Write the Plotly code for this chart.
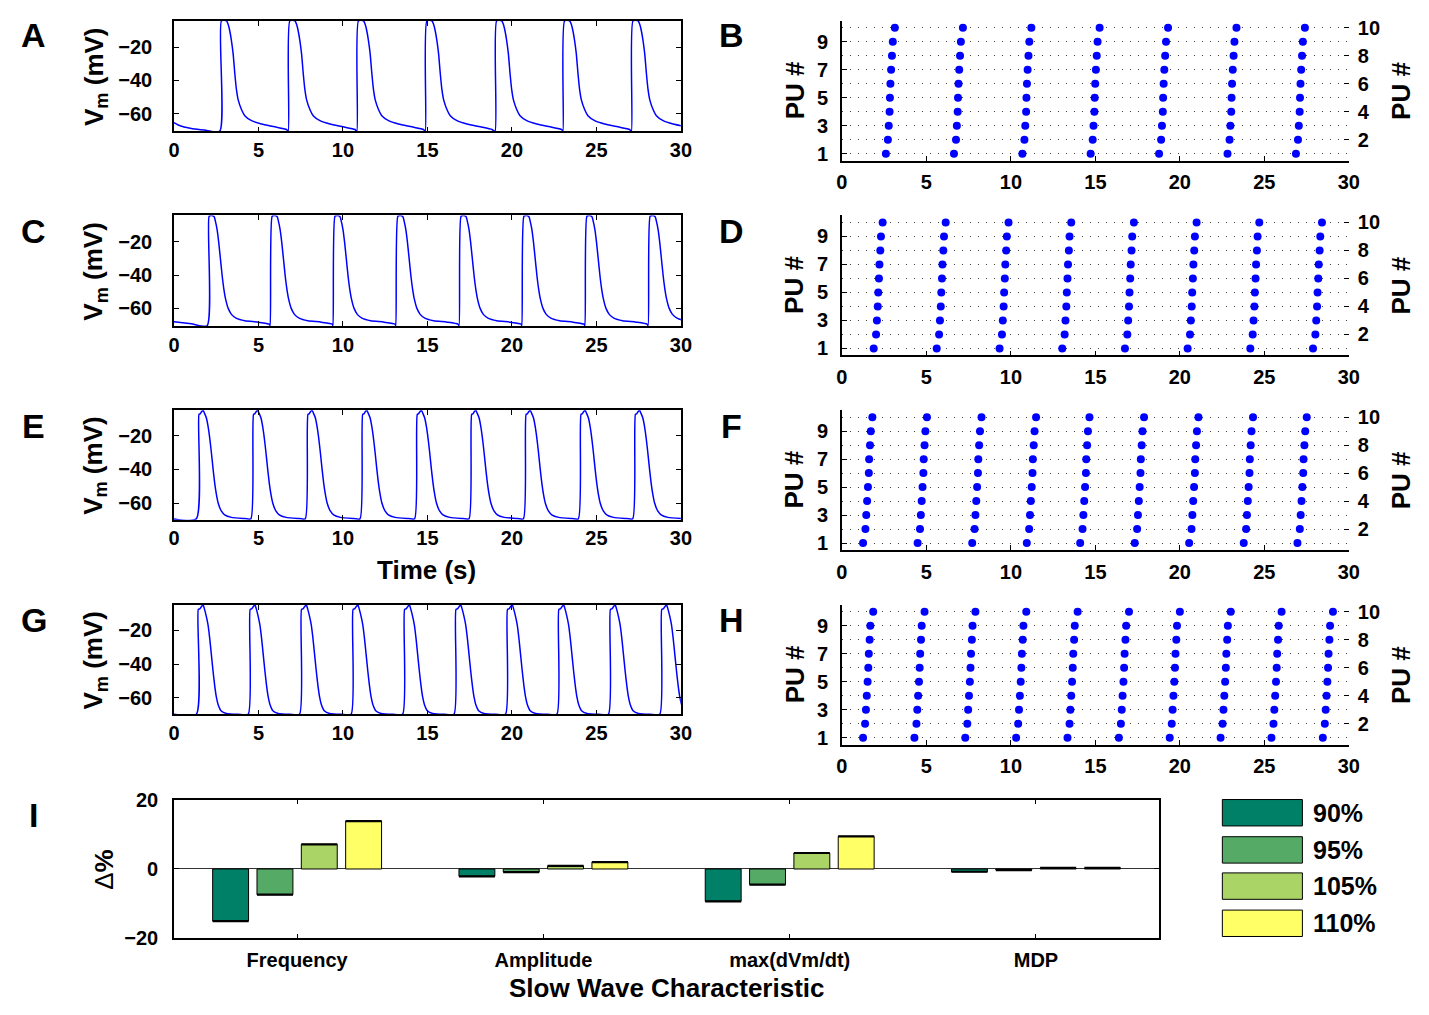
import plotly.graph_objects as go

W, H = 1429, 1015

# ---------------- DATA ----------------
# Membrane-potential traces: onset times of each slow wave (s)
onsets_A = [2.71, 6.76, 10.82, 14.87, 19.00, 23.02, 27.07]
onsets_C = [1.96, 5.69, 9.41, 13.13, 16.87, 20.59, 24.32, 28.06]
onsets_E = [1.32, 4.55, 7.77, 11.01, 14.24, 17.46, 20.68, 23.93, 27.15]
onsets_G = [1.32, 4.39, 7.43, 10.48, 13.53, 16.57, 19.62, 22.66, 25.71, 28.75]

# Wave shape: time after onset (s) and Vm (mV)
shape_A_t = [0.0, 0.10, 0.40, 0.49, 0.59, 0.69, 0.79, 0.89, 0.99, 1.09, 1.29, 1.48, 1.88, 2.47, 3.26, 3.95]
shape_A_v = [-70.5, -4.1, -4.1, -6.1, -10.1, -16.0, -23.9, -35.8, -45.7, -51.7, -57.6, -61.2, -64.2, -66.2, -67.9, -69.5]
shape_C_t = [0.0, 0.12, 0.26, 0.42, 0.49, 0.59, 0.69, 0.79, 0.89, 0.99, 1.09, 1.25, 1.44, 1.74, 2.23, 3.03, 3.68]
shape_C_v = [-70.4, -4.6, -4.1, -4.9, -7.5, -12.4, -20.4, -30.3, -40.2, -48.2, -54.1, -60.0, -63.6, -66.0, -67.4, -68.3, -69.5]
shape_E_t = [0.0, 0.16, 0.24, 0.30, 0.40, 0.49, 0.59, 0.69, 0.79, 0.89, 0.99, 1.09, 1.19, 1.29, 1.48, 1.68, 2.08, 2.87]
shape_E_v = [-69.4, -7.4, -7.0, -6.0, -4.9, -6.8, -9.3, -14.1, -21.0, -29.7, -39.4, -48.2, -54.9, -59.8, -64.7, -67.0, -68.5, -69.2]
shape_G_t = [0.0, 0.12, 0.22, 0.30, 0.40, 0.49, 0.59, 0.69, 0.79, 0.89, 0.99, 1.09, 1.19, 1.29, 1.48, 1.78, 2.47]
shape_G_v = [-69.8, -7.6, -7.2, -6.0, -4.9, -7.6, -11.6, -16.5, -24.3, -34.1, -44.0, -52.8, -59.7, -64.0, -67.9, -69.3, -69.8]

# Start of each trace before the first onset
start_A_t = [0.0, 0.25, 0.60, 1.10, 1.80]
start_A_v = [-65.4, -66.8, -68.0, -69.0, -69.8]
start_C_t = [0.0, 1.03]
start_C_v = [-68.0, -69.3]
start_E_t = [0.0]
start_E_v = [-69.4]
start_G_t = [0.0]
start_G_v = [-69.8]

# Raster plots: burst times of PU 1 (s) and lag of PU 1..10 within a burst (s)
pu_ids = [1, 2, 3, 4, 5, 6, 7, 8, 9, 10]
burst_B = [2.60, 6.63, 10.68, 14.72, 18.77, 22.82, 26.87]
lag_B = [0.0, 0.12, 0.17, 0.22, 0.24, 0.27, 0.31, 0.36, 0.41, 0.53]
burst_D = [1.88, 5.61, 9.33, 13.04, 16.75, 20.46, 24.17, 27.88]
lag_D = [0.0, 0.14, 0.19, 0.24, 0.27, 0.31, 0.34, 0.39, 0.43, 0.53]
burst_F = [1.25, 4.48, 7.71, 10.94, 14.10, 17.33, 20.55, 23.78, 26.96]
lag_F = [0.0, 0.14, 0.19, 0.24, 0.29, 0.34, 0.36, 0.41, 0.46, 0.55]
burst_H = [1.25, 4.29, 7.30, 10.31, 13.35, 16.39, 19.40, 22.41, 25.42, 28.46]
lag_H = [0.0, 0.12, 0.17, 0.22, 0.27, 0.31, 0.34, 0.39, 0.43, 0.60]

# Panel I: change (%) of slow-wave characteristics
characteristics = ["Frequency", "Amplitude", "max(dVm/dt)", "MDP"]
levels = ["90%", "95%", "105%", "110%"]
delta_90 = [-15.0, -2.1, -9.3, -0.8]
delta_95 = [-7.4, -0.9, -4.5, -0.3]
delta_105 = [7.1, 0.9, 4.6, 0.3]
delta_110 = [13.8, 2.0, 9.4, 0.3]
err_90 = [0.1, 0.1, 0.1, 0.1]
err_95 = [0.1, 0.1, 0.1, 0.1]
err_105 = [0.1, 0.1, 0.1, 0.1]
err_110 = [0.1, 0.1, 0.1, 0.1]
level_colors = ["#008066", "#55aa66", "#aad466", "#ffff66"]

time_ticks = [0, 5, 10, 15, 20, 25, 30]
vm_ticks = [-60, -40, -20]
pu_left_ticks = [1, 3, 5, 7, 9]
pu_right_ticks = [2, 4, 6, 8, 10]
delta_ticks = [-20, 0, 20]

# ---------------- HELPERS ----------------
FONT = "Liberation Sans, Arial, Helvetica, sans-serif"
BLUE = "#0000ff"


def px(x):
    return x / W


def py(y):
    return 1 - y / H


def build_trace(start_t, start_v, onsets, shape_t, shape_v):
    ts, vs = list(start_t), list(start_v)
    for o in onsets:
        for dt, v in zip(shape_t, shape_v):
            ts.append(o + dt)
            vs.append(v)
    return ts, vs


def build_raster(bursts, lags, pus):
    xs, ys = [], []
    for b in bursts:
        for lag, pu in zip(lags, pus):
            xs.append(b + lag)
            ys.append(pu)
    return xs, ys


tick_font = dict(family=FONT, size=20, color="black", weight="bold")
fig = go.Figure()
layout = {}

axis_common = dict(showline=True, linecolor="black", linewidth=1.5, ticks="inside",
                   ticklen=5, tickwidth=1.2, tickcolor="black", tickfont=tick_font,
                   showgrid=False, zeroline=False)

# ---------------- Vm panels (A, C, E, G) ----------------
vm_panels = [
    (start_A_t, start_A_v, onsets_A, shape_A_t, shape_A_v, (10, 123), [-70.6, -4.1]),
    (start_C_t, start_C_v, onsets_C, shape_C_t, shape_C_v, (209, 322), [-70.6, -4.1]),
    (start_E_t, start_E_v, onsets_E, shape_E_t, shape_E_v, (408, 520), [-69.9, -4.9]),
    (start_G_t, start_G_v, onsets_G, shape_G_t, shape_G_v, (607, 719), [-69.9, -4.9]),
]
for i, (st, sv, ons, sh_t, sh_v, (top, bot), yr) in enumerate(vm_panels, start=1):
    tx, tv = build_trace(st, sv, ons, sh_t, sh_v)
    sfx = "" if i == 1 else str(i)
    fig.add_trace(go.Scatter(x=tx, y=tv, mode="lines",
                             line=dict(color=BLUE, width=1.5, shape="spline", smoothing=0.6),
                             xaxis="x" + sfx, yaxis="y" + sfx, showlegend=False))
    layout["xaxis" + sfx] = dict(axis_common, domain=[px(170), px(683)], range=[0, 30],
                                 tickvals=time_ticks, anchor="y" + sfx, mirror="ticks",
                                 ticklabelstandoff=0)
    layout["yaxis" + sfx] = dict(axis_common, domain=[py(bot), py(top)], range=yr,
                                 tickvals=vm_ticks, anchor="x" + sfx, mirror="ticks",
                                 ticklabelstandoff=16)

# ---------------- Raster panels (B, D, F, H) ----------------
raster_panels = [
    (burst_B, lag_B, (10, 153)),
    (burst_D, lag_D, (209, 352)),
    (burst_F, lag_F, (408, 551)),
    (burst_H, lag_H, (607, 750)),
]
grid_style = dict(showgrid=True, gridcolor="#444444", gridwidth=1, griddash="1.5px,6.5px")
ax_id = 5
for bursts, lags, (top, bot) in raster_panels:
    rx, ry = build_raster(bursts, lags, pu_ids)
    xa, ya, ya2 = str(ax_id), str(ax_id), str(ax_id + 1)
    odd = [(x, y) for x, y in zip(rx, ry) if y % 2 == 1]
    even = [(x, y) for x, y in zip(rx, ry) if y % 2 == 0]
    mk = dict(color=BLUE, size=8, symbol="circle", line=dict(width=0))
    fig.add_trace(go.Scatter(x=[p[0] for p in odd], y=[p[1] for p in odd], mode="markers",
                             marker=mk, xaxis="x" + xa, yaxis="y" + ya, showlegend=False))
    fig.add_trace(go.Scatter(x=[p[0] for p in even], y=[p[1] for p in even], mode="markers",
                             marker=mk, xaxis="x" + xa, yaxis="y" + ya2, showlegend=False))
    layout["xaxis" + xa] = dict(axis_common, domain=[px(846), px(1359)], range=[0, 30],
                                tickvals=time_ticks, anchor="y" + ya, ticklabelstandoff=3)
    layout["yaxis" + ya] = dict(axis_common, domain=[py(bot), py(top)], range=[0.5, 10.5],
                                tickvals=pu_left_ticks, anchor="x" + xa,
                                ticklabelstandoff=8, **grid_style)
    layout["yaxis" + ya2] = dict(axis_common, range=[0.5, 10.5], tickvals=pu_right_ticks,
                                 overlaying="y" + ya, side="right", anchor="x" + xa,
                                 ticklabelstandoff=8, **grid_style)
    layout["yaxis" + ya2]["showline"] = False
    ax_id += 2

# ---------------- Panel I bars ----------------
bar_sets = [(delta_90, err_90), (delta_95, err_95), (delta_105, err_105), (delta_110, err_110)]
for (vals, errs), name, col in zip(bar_sets, levels, level_colors):
    fig.add_trace(go.Bar(x=characteristics, y=vals, name=name,
                         marker=dict(color=col, line=dict(color="black", width=1)),
                         error_y=dict(type="data", array=errs, color="black", thickness=1.5, width=18),
                         xaxis="x13", yaxis="y13", showlegend=False))
layout["xaxis13"] = dict(axis_common, domain=[px(170), px(1167)], range=[-0.5, 3.5],
                         anchor="y13", mirror="ticks", ticklabelstandoff=3)
layout["yaxis13"] = dict(axis_common, domain=[py(948), py(806)], range=[-20, 20],
                         tickvals=delta_ticks, anchor="x13", mirror="ticks",
                         zeroline=True, zerolinecolor="#333333", zerolinewidth=1.2,
                         ticklabelstandoff=10)

# ---------------- Annotations ----------------
ann = []
title_font = dict(family=FONT, size=26, color="black", weight="bold")
letter_font = dict(family=FONT, size=34, color="black", weight="bold")


def text(x, y, s, font, angle=0, xanchor="center"):
    ann.append(dict(x=px(x), y=py(y), xref="paper", yref="paper", text=s, showarrow=False,
                    font=font, textangle=angle, xanchor=xanchor, yanchor="middle"))


for letter, (lx, ly) in zip("ABCDEFGHI", [(28, 25), (734, 25), (28, 225), (734, 225),
                                           (28, 424), (734, 424), (28, 623), (734, 623), (28, 822)]):
    text(lx, ly, letter, letter_font)

for top, bot in [(10, 123), (209, 322), (408, 520), (607, 719)]:
    text(90, (top + bot) / 2, "V<sub>m</sub> (mV)", title_font, angle=-90)
for top, bot in [(10, 153), (209, 352), (408, 551), (607, 750)]:
    text(798, (top + bot) / 2, "PU #", title_font, angle=-90)
    text(1412, (top + bot) / 2, "PU #", title_font, angle=-90)

text(426, 571, "Time (s)", title_font)
text(669, 999, "Slow Wave Characteristic", title_font)
text(99, 877, "<span style='font-weight:normal'>Δ</span>%", title_font, angle=-90)

# Legend for panel I
shapes = []
legend_rows = [(806, 833), (844, 871), (881, 908), (919, 946)]
for (y0, y1), name, col in zip(legend_rows, levels, level_colors):
    shapes.append(dict(type="rect", xref="paper", yref="paper", x0=px(1231), x1=px(1312),
                       y0=py(y1), y1=py(y0), fillcolor=col, line=dict(color="black", width=1)))
    text(1321, (y0 + y1) / 2, name, dict(family=FONT, size=25, color="black", weight="bold"),
         xanchor="left")

fig.update_layout(**layout)
fig.update_layout(width=W, height=H, margin=dict(l=0, r=0, t=0, b=0),
                  paper_bgcolor="white", plot_bgcolor="white",
                  barmode="group", bargap=0.28, bargroupgap=0.19,
                  annotations=ann, shapes=shapes, showlegend=False,
                  font=dict(family=FONT, color="black"))

fig.write_html("out.html", config={"displayModeBar": False},
               post_script="document.body.style.margin='0px';document.body.style.overflow='hidden';")
